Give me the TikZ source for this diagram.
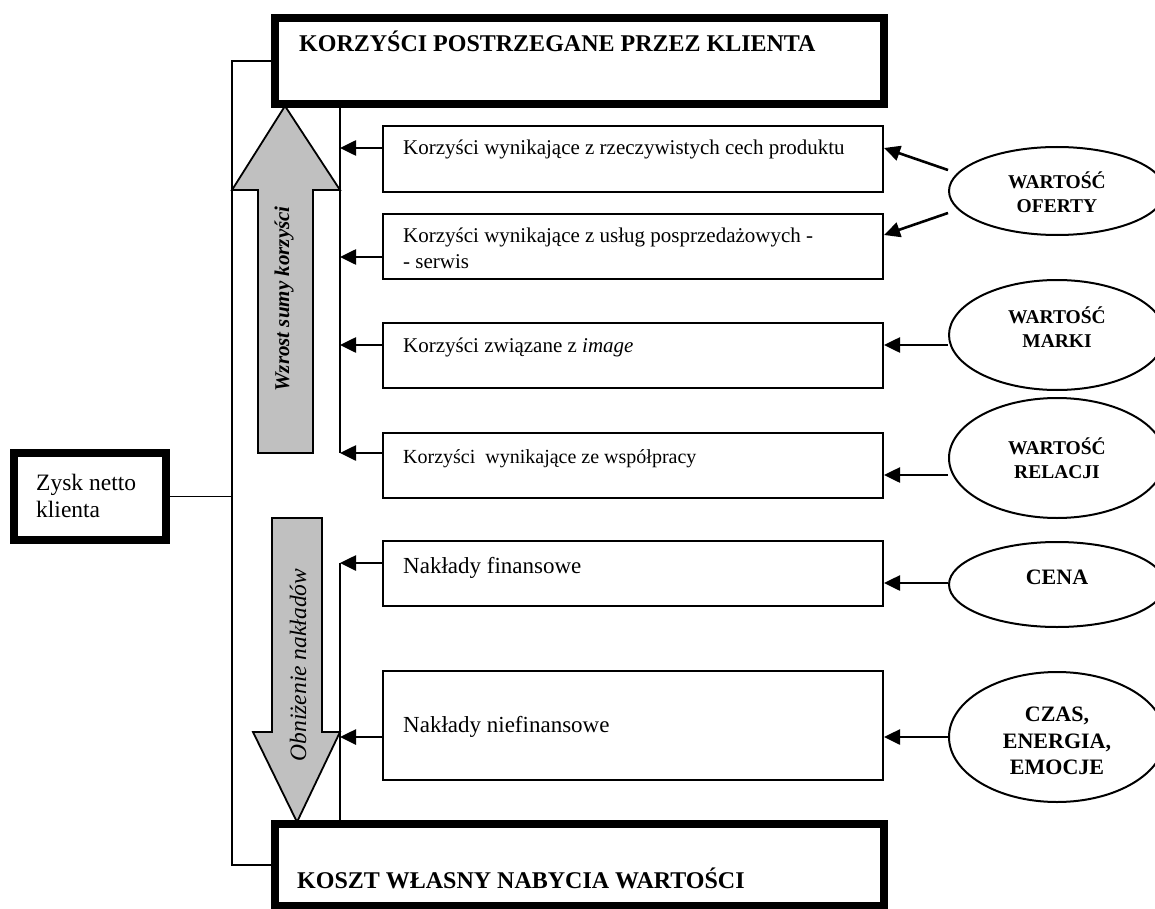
\documentclass[tikz,border=0pt]{standalone}
\usepackage{fontspec}
\setmainfont{Liberation Serif}
\usetikzlibrary{arrows.meta,shapes.geometric,calc}
\definecolor{arrgray}{HTML}{C0C0C0}
\newcommand\fsz[2]{\fontsize{#1}{#2}\selectfont}
\begin{document}
\begin{tikzpicture}[x=1pt,y=-1pt,
  thickbox/.style={draw, line width=8pt, fill=white, inner sep=0pt},
  thinbox/.style={draw, line width=2pt, fill=white, inner sep=0pt, minimum width=500pt},
  oval/.style={draw, ellipse, line width=2pt, inner sep=0pt, minimum width=216pt},
  txt/.style={inner sep=0pt, anchor=base west},
  otxt/.style={inner sep=0pt, align=center, font=\fsz{19.5}{23.5}\bfseries},
  arr/.style={line width=2.6pt, -{Triangle[length=16pt,width=15pt]}},
  conn/.style={line width=1.7pt},
  garrow/.style={draw, line width=1.8pt, fill=arrgray, line join=miter}
]
\fill[white] (0,0) rectangle (1155,909);
\useasboundingbox (0,0) rectangle (1155,909);

% gray arrows
\draw[garrow] (285,106) -- (340,190) -- (313,190) -- (313,453) -- (258,453) -- (258,190) -- (232,190) -- cycle;
\node[inner sep=0pt, rotate=90] (up) at (284,299) {\fsz{21}{25}\bfseries\itshape Wzrost sumy korzyści};
\draw[garrow] (272,518) -- (322,518) -- (322,732) -- (340,732) -- (297,822) -- (253,732) -- (272,732) -- cycle;
\node[inner sep=0pt, rotate=90] (down) at (298,665) {\fsz{23.5}{27}\itshape Obniżenie nakładów};

% main boxes
\node[thickbox, minimum width=609pt, minimum height=86pt] (top) at (579.5,61) {};
\node[txt] (toptxt) at (299,52) {\fsz{24}{28}\bfseries KORZYŚCI POSTRZEGANE PRZEZ KLIENTA};
\node[thickbox, minimum width=609pt, minimum height=82pt] (bot) at (579.5,865) {};
\node[txt] (bottxt) at (297,888) {\fsz{24}{28}\bfseries KOSZT WŁASNY NABYCIA WARTOŚCI};
\node[thickbox, minimum width=152pt, minimum height=87pt] (zysk) at (90,496.5) {};
\node[txt] (zt1) at (36,490) {\fsz{23.5}{27}Zysk netto};
\node[txt] (zt2) at (36,517) {\fsz{23.5}{27}klienta};

% bracket lines
\coordinate (lx) at (232,0);
\draw[conn] (top.west) -- (top.west -| lx) -- (bot.west -| lx) -- (bot.west);
\draw[conn] (zysk.east) -- (zysk.east -| lx);
\coordinate (v1t) at (340,104);
\coordinate (v1b) at (340,453);
\coordinate (v2t) at (340,563);
\coordinate (v2b) at (340,824);
\draw[conn] (v1t) -- (v1b);
\draw[conn] (v2t) -- (v2b);

% boxes
\node[thinbox, minimum height=66pt] (b1) at (633,159) {};
\node[txt] at (403,155) {\fsz{21}{25}Korzyści wynikające z rzeczywistych cech produktu};
\node[thinbox, minimum height=65pt] (b2) at (633,246.5) {};
\node[txt] at (403,243) {\fsz{21}{25}Korzyści wynikające z usług posprzedażowych -};
\node[txt] at (403,268) {\fsz{21}{25}- serwis};
\node[thinbox, minimum height=65pt] (b3) at (633,355.5) {};
\node[txt] at (403,352) {\fsz{21}{25}Korzyści związane z \textit{image}};
\node[thinbox, minimum height=65pt] (b4) at (633,465.5) {};
\node[txt] at (403,463) {\fsz{20}{24}Korzyści\ \ wynikające ze współpracy};
\node[thinbox, minimum height=65pt] (b5) at (633,573.5) {};
\node[txt] at (403,573) {\fsz{23}{27}Nakłady finansowe};
\node[thinbox, minimum height=109pt] (b6) at (633,725.5) {};
\node[txt] at (403,732) {\fsz{23}{27}Nakłady niefinansowe};

% arrows into vertical lines
\draw[arr] (b1.west |- 0,148) -- (v1t |- 0,148);
\draw[arr] (b2.west |- 0,257) -- (v1t |- 0,257);
\draw[arr] (b3.west |- 0,345) -- (v1t |- 0,345);
\draw[arr] (b4.west |- 0,453) -- (v1t |- 0,453);
\draw[arr] (b5.west |- 0,563) -- (v2t |- 0,563);
\draw[arr] (b6.west |- 0,737) -- (v2t |- 0,737);

% ellipses
\node[oval, minimum height=88pt] (e1) at (1057,191) {};
\node[otxt] at (1057,192) {WARTOŚĆ\\OFERTY};
\node[oval, minimum height=110pt] (e2) at (1057,335) {};
\node[otxt] at (1057,327) {WARTOŚĆ\\MARKI};
\node[oval, minimum height=120pt] (e3) at (1057,458) {};
\node[otxt] at (1057,458) {WARTOŚĆ\\RELACJI};
\node[oval, minimum height=85pt] (e4) at (1057,584.5) {};
\node[otxt, font=\fsz{22}{26}\bfseries] at (1057,577) {CENA};
\node[oval, minimum height=130pt] (e5) at (1057,737) {};
\node[otxt, font=\fsz{22}{26.5}\bfseries] at (1057,741) {CZAS,\\ENERGIA,\\EMOCJE};

% arrows from ellipses
\draw[arr] (e1.west |- 0,170) -- (b1.east |- 0,148);
\draw[arr] (e1.west |- 0,213) -- (b2.east |- 0,235);
\draw[arr] (e2.west |- 0,345) -- (b3.east |- 0,345);
\draw[arr] (e3.west |- 0,475) -- (b4.east |- 0,475);
\draw[arr] (e4.west |- 0,583) -- (b5.east |- 0,583);
\draw[arr] (e5.west |- 0,737) -- (b6.east |- 0,737);
\end{tikzpicture}
\end{document}
